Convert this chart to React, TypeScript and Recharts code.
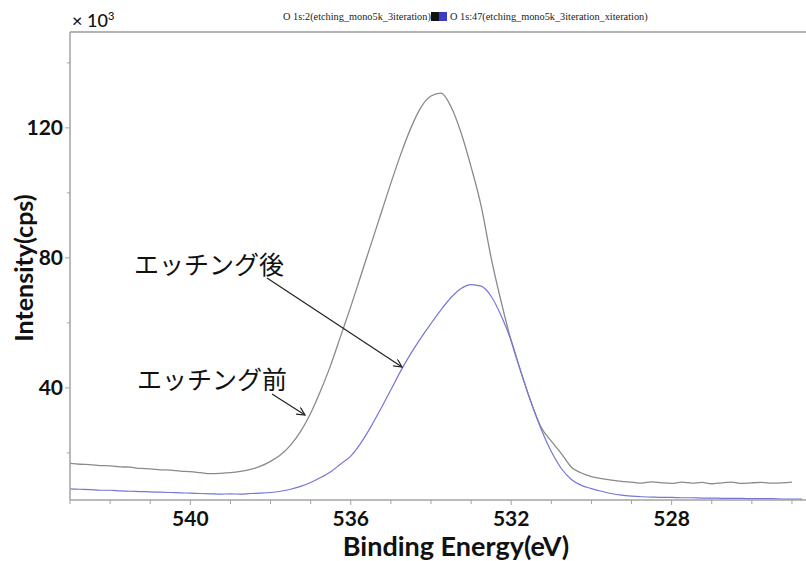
import { LineChart, Line, XAxis, YAxis, ReferenceLine } from 'recharts'

// O 1s spectra, binding energy in eV, intensity in 10^3 cps
const bindingEnergy = [
  543.0, 542.75, 542.5, 542.25, 542.0, 541.75, 541.5, 541.25, 541.0, 540.75,
  540.5, 540.25, 540.0, 539.75, 539.5, 539.25, 539.0, 538.75, 538.5, 538.25,
  538.0, 537.75, 537.5, 537.25, 537.0, 536.75, 536.5, 536.25, 536.0, 535.75,
  535.5, 535.25, 535.0, 534.75, 534.5, 534.25, 534.0, 533.75, 533.5, 533.25,
  533.0, 532.75, 532.5, 532.25, 532.0, 531.75, 531.5, 531.25, 531.0, 530.75,
  530.5, 530.25, 530.0, 529.75, 529.5, 529.25, 529.0, 528.75, 528.5, 528.25,
  528.0, 527.75, 527.5, 527.25, 527.0, 526.75, 526.5, 526.25, 526.0, 525.75,
  525.5, 525.25, 525.0, 524.75,
]

// O 1s:2 — before etching (grey trace)
const intensityBefore = [
  16.8, 16.5, 16.4, 16.1, 16.0, 15.7, 15.6, 15.2, 15.1, 14.8,
  14.7, 14.4, 14.2, 13.9, 13.6, 13.7, 13.9, 14.3, 14.9, 15.9,
  17.4, 19.4, 22.4, 26.6, 32.2, 39.2, 47.0, 56.0, 65.0, 74.5,
  84.0, 93.5, 103.0, 112.0, 120.0, 126.3, 129.8, 130.7, 126.5, 118.5,
  108.0, 96.0, 80.0, 66.5, 54.5, 44.6, 35.4, 27.8, 23.6, 19.8,
  15.6, 13.8, 12.7, 12.1, 11.6, 11.2, 11.0, 10.7, 11.1, 10.8,
  10.6, 11.0, 10.7, 10.9, 10.5, 10.8, 11.0, 10.6, 10.8, 10.9,
  10.7, 10.8, 11.0, null,
]

// O 1s:47 — after etching (blue trace)
const intensityAfter = [
  8.9, 8.8, 8.7, 8.5, 8.5, 8.3, 8.2, 8.1, 8.0, 7.9,
  7.8, 7.7, 7.6, 7.5, 7.4, 7.3, 7.4, 7.3, 7.5, 7.6,
  7.8, 8.2, 8.8, 9.7, 10.9, 12.4, 14.2, 16.6, 19.0, 23.0,
  28.0, 33.6, 39.4, 45.3, 50.6, 55.4, 59.8, 64.0, 67.8, 70.6,
  71.8, 71.3, 68.2, 62.2, 54.5, 44.6, 35.4, 27.2, 20.4, 15.2,
  11.8, 10.0, 9.0, 8.2, 7.5, 7.0, 6.7, 6.5, 6.4, 6.3,
  6.3, 6.2, 6.2, 6.1, 6.1, 6.0, 6.0, 6.0, 5.9, 5.9,
  5.9, 5.8, 5.8, 5.8,
]

const xTicks = [
  525, 526, 527, 528, 529, 530, 531, 532, 533, 534,
  535, 536, 537, 538, 539, 540, 541, 542, 543,
]
const xLabelTicks = [528, 532, 536, 540]
const yTicks = [20, 40, 60, 80, 100, 120, 140]
const yLabelTicks = [40, 80, 120]

const legendBefore = 'O 1s:2(etching_mono5k_3iteration)'
const legendAfter = 'O 1s:47(etching_mono5k_3iteration_xiteration)'
const noteAfter = 'エッチング後'
const noteBefore = 'エッチング前'

const spectrum = bindingEnergy.map((e, i) => ({
  e,
  before: intensityBefore[i],
  after: intensityAfter[i],
}))

const AXIS = '#a3a3a3'
const LABEL_FONT = 'Lato, "Open Sans", sans-serif'
const SERIF = '"Liberation Serif", "DejaVu Serif", serif'
const JP_FONT = '"Noto Sans CJK JP", sans-serif'

const XTick = ({ x, y, payload }: any) => {
  const major = xLabelTicks.includes(payload.value)
  return (
    <g>
      <line x1={x} y1={y} x2={x} y2={y + (major ? 5 : 4)} stroke={AXIS} strokeWidth={1} />
      {major && (
        <text x={x} y={y + 26} textAnchor="middle" fontFamily={LABEL_FONT}
          fontWeight={700} fontSize={21} fill="#111">
          {payload.value}
        </text>
      )}
    </g>
  )
}

const YTick = ({ x, y, payload }: any) => {
  const major = yLabelTicks.includes(payload.value)
  return (
    <g>
      <line x1={x} y1={y} x2={x - (major ? 5 : 3)} y2={y} stroke={AXIS} strokeWidth={1} />
      {major && (
        <text x={x - 7} y={y + 7} textAnchor="end" fontFamily={LABEL_FONT}
          fontWeight={700} fontSize={21} fill="#111">
          {payload.value}
        </text>
      )}
    </g>
  )
}

export default function App() {
  return (
    <div style={{ position: 'absolute', left: 0, top: 0, width: 806, height: 561, background: '#fff' }}>
      <LineChart
        width={806}
        height={561}
        data={spectrum}
        margin={{ top: 32, right: 0, bottom: 21, left: 10 }}
      >
        <XAxis
          dataKey="e"
          type="number"
          reversed
          domain={[524.65, 543]}
          ticks={xTicks}
          interval={0}
          tick={XTick}
          tickSize={0}
          tickMargin={0}
          tickLine={false}
          axisLine={{ stroke: AXIS, strokeWidth: 1.5 }}
          height={40}
          allowDataOverflow
        />
        <YAxis
          type="number"
          domain={[5.5, 149.5]}
          ticks={yTicks}
          interval={0}
          tick={YTick}
          tickSize={0}
          tickMargin={0}
          tickLine={false}
          axisLine={{ stroke: AXIS, strokeWidth: 1.5 }}
          width={60}
          allowDataOverflow
        />
        <ReferenceLine y={149.5} stroke="#b3b3b3" strokeWidth={2} />
        <Line
          dataKey="before"
          type="monotone"
          stroke="#8a8a8a"
          strokeWidth={1.3}
          dot={false}
          connectNulls={false}
          isAnimationActive={false}
        />
        <Line
          dataKey="after"
          type="monotone"
          stroke="#7676d4"
          strokeWidth={1.2}
          dot={false}
          isAnimationActive={false}
        />
      </LineChart>

      <svg width={806} height={561} style={{ position: 'absolute', left: 0, top: 0, pointerEvents: 'none' }}>
        <defs>
          <marker id="openArrow" markerWidth="10" markerHeight="10" refX="8" refY="4"
            orient="auto" markerUnits="userSpaceOnUse">
            <path d="M0,0 L8,4 L0,8" fill="none" stroke="#222" strokeWidth={1.2} />
          </marker>
        </defs>

        {/* multiplier above the y axis */}
        <text x={72} y={27} fontFamily={LABEL_FONT} fontWeight={500} fontSize={18} fill="#111">
          × 10<tspan dy={-7} fontSize={11}>3</tspan>
        </text>

        {/* legend strip */}
        <text x={283} y={20} fontFamily={SERIF} fontSize={10.3} fill="#222">
          {legendBefore}
        </text>
        <rect x={431} y={12} width={8} height={9} fill="#111" />
        <rect x={439} y={12} width={8} height={9} fill="#3b3bc8" />
        <text x={450} y={20} fontFamily={SERIF} fontSize={10.3} fill="#222">
          {legendAfter}
        </text>

        {/* axis titles */}
        <text x={456} y={556} textAnchor="middle" fontFamily={LABEL_FONT}
          fontWeight={700} fontSize={27} fill="#111">
          Binding Energy(eV)
        </text>
        <text x={0} y={0} transform="translate(33,268) rotate(-90)" textAnchor="middle"
          fontFamily={LABEL_FONT} fontWeight={700} fontSize={25} fill="#111">
          Intensity(cps)
        </text>

        {/* annotations */}
        <text x={134} y={274} fontFamily={JP_FONT} fontSize={25} fill="#111">
          {noteAfter}
        </text>
        <line x1={267} y1={278} x2={402} y2={367} stroke="#222" strokeWidth={1.2} markerEnd="url(#openArrow)" />
        <text x={137} y={389} fontFamily={JP_FONT} fontSize={25} fill="#111">
          {noteBefore}
        </text>
        <line x1={272} y1={394} x2={305} y2={415} stroke="#222" strokeWidth={1.2} markerEnd="url(#openArrow)" />
      </svg>
    </div>
  )
}
